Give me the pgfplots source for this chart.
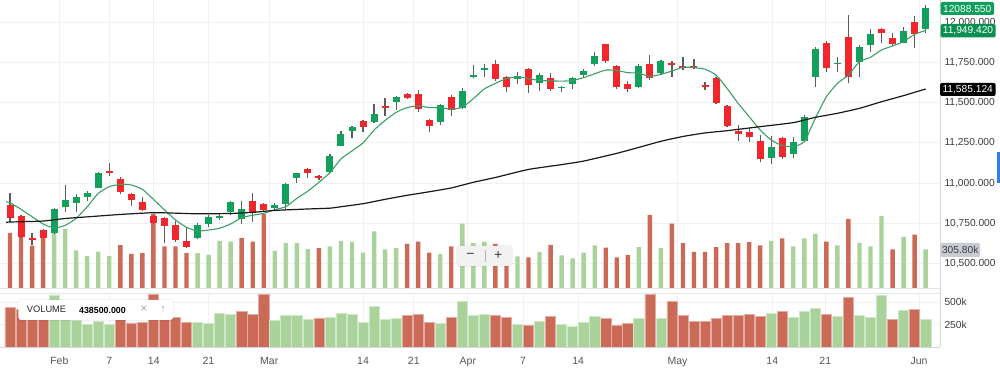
\documentclass[border=0pt]{standalone}
\usepackage{fontspec}
\setmainfont{Liberation Sans}
\usepackage{pgfplots}
\usepackage{pgfplotstable}
\pgfplotsset{compat=1.18}
\definecolor{cg}{HTML}{12A05D}
\definecolor{cr}{HTML}{F2262B}
\definecolor{wick}{HTML}{5C5C5C}
\definecolor{vr}{HTML}{CC6A58}
\definecolor{vg}{HTML}{A9D39A}
\definecolor{maf}{HTML}{3E9E68}
\definecolor{gridc}{HTML}{F1F1F1}
\definecolor{axisc}{HTML}{D3D6DC}
\definecolor{lab}{HTML}{3C3C3C}
\definecolor{lab2}{HTML}{555555}
\definecolor{tagg}{HTML}{0E9F5D}
\definecolor{tagg2}{HTML}{0B8F50}
\definecolor{tagv}{HTML}{C8CBD3}
\definecolor{blue1}{HTML}{2B7FF0}

\pgfplotstableread{
i O H L C V cu vu
0 10864 10937 10760 10781 438.5 0 0
1 10795 10800 10660 10667 420 0 0
2 10659 10692 10615 10646 336 0 0
3 10708 10715 10650 10657 430 0 0
4 10692 10845 10686 10837 577 1 1
5 10853 10988 10822 10895 468 1 1
6 10878 10932 10822 10915 299 1 1
7 10915 10953 10891 10937 254 1 1
8 10970 11071 10968 11065 288 1 1
9 11075 11123 11046 11061 252 0 1
10 11027 11036 10932 10945 341 0 0
11 10932 10937 10859 10895 270 0 0
12 10881 10912 10828 10833 276 0 0
13 10795 10800 10745 10750 588 0 0
14 10785 10790 10625 10734 331 0 0
15 10739 10766 10636 10645 330 0 0
16 10642 10719 10594 10604 276 0 0
17 10657 10750 10650 10739 277 1 1
18 10746 10802 10725 10791 262 1 1
19 10785 10808 10771 10795 375 1 1
20 10820 10889 10802 10882 368 1 1
21 10777 10889 10746 10839 397 1 0
22 10889 10941 10760 10812 368 0 0
23 10870 10876 10820 10832 588 0 0
24 10843 10875 10835 10864 295 1 1
25 10870 10999 10830 10994 357 1 1
26 11030 11065 11003 11061 357 1 1
27 11086 11092 11034 11061 309 0 1
28 11044 11050 11020 11030 317 0 0
29 11071 11180 11065 11170 331 1 1
30 11233 11324 11233 11305 375 1 1
31 11326 11355 11279 11351 368 1 1
32 11386 11392 11320 11351 280 0 1
33 11378 11490 11376 11430 449 1 1
34 11479 11531 11417 11465 306 0 1
35 11506 11544 11455 11537 317 1 1
36 11556 11562 11520 11527 350 0 0
37 11552 11579 11444 11461 368 0 0
38 11394 11398 11316 11357 280 0 0
39 11382 11492 11361 11486 269 1 1
40 11534 11548 11417 11455 331 0 0
41 11465 11590 11461 11573 511 1 1
42 11660 11737 11651 11675 357 1 1
43 11705 11743 11660 11716 368 1 1
44 11739 11765 11637 11647 350 0 0
45 11662 11665 11564 11600 331 0 0
46 11645 11689 11614 11668 251 1 1
47 11710 11714 11558 11610 244 0 0
48 11620 11683 11575 11672 287 1 1
49 11652 11683 11573 11585 342 0 0
50 11589 11606 11564 11600 258 1 1
51 11616 11662 11585 11652 236 1 1
52 11672 11710 11658 11697 280 1 1
53 11739 11817 11730 11793 339 1 1
54 11863 11865 11749 11759 320 0 0
55 11730 11732 11585 11596 244 0 0
56 11614 11635 11569 11583 262 0 0
57 11600 11739 11589 11728 324 1 1
58 11739 11797 11641 11652 581 0 0
59 11687 11766 11672 11761 317 1 1
60 11749 11759 11662 11737 511 0 0
61 11730 11786 11703 11716 357 0 0
62 11726 11772 11710 11714 287 0 0
63 11608 11631 11579 11595 287 0 0
64 11656 11658 11492 11496 324 0 0
65 11481 11483 11351 11357 357 0 0
66 11324 11361 11264 11303 357 0 0
67 11316 11345 11258 11284 364 0 0
68 11262 11299 11129 11150 339 0 0
69 11158 11293 11117 11226 375 1 1
70 11278 11289 11148 11164 394 0 0
71 11181 11285 11154 11258 331 1 1
72 11264 11423 11258 11413 394 1 1
73 11658 11849 11600 11832 430 1 1
74 11869 11886 11693 11714 368 0 0
75 11738 11782 11693 11747 339 1 1
76 11907 12045 11620 11662 548 0 0
77 11755 11859 11662 11844 357 1 1
78 11859 11958 11817 11925 331 1 1
79 11958 11962 11873 11931 570 0 1
80 11904 11935 11855 11865 306 0 0
81 11873 11969 11869 11944 405 1 1
82 12000 12041 11838 11927 423 0 0
83 11956 12106 11931 12088.55 305.8 1 1
}\data

\pgfplotstableread{
i m
-0.35 10884
0 10878
1 10837
2 10791
3 10746
4 10721
5 10737
6 10781
7 10853
8 10936
9 10978
10 10992
11 10988
12 10961
13 10899
14 10833
15 10771
16 10725
17 10702
18 10708
19 10719
20 10746
21 10785
22 10800
23 10812
24 10835
25 10853
26 10905
27 10950
28 11005
29 11065
30 11150
31 11200
32 11250
33 11330
34 11390
35 11440
36 11470
37 11480
38 11470
39 11468
40 11460
41 11472
42 11525
43 11586
44 11620
45 11650
46 11660
47 11650
48 11638
49 11636
50 11634
51 11638
52 11656
53 11680
54 11703
55 11700
56 11687
57 11683
58 11664
59 11676
60 11697
61 11720
62 11718
63 11708
64 11672
65 11589
66 11496
67 11413
68 11330
69 11268
70 11233
71 11227
72 11258
73 11403
74 11537
75 11620
76 11672
77 11755
78 11782
79 11828
80 11853
81 11880
82 11925
83 11949.42
}\mafast

\pgfplotstableread{
i m
-0.35 10756
0 10758
3 10764
5 10780
7 10790
10 10805
13 10816
15 10813
17 10809
20 10811
22 10818
24 10830
27 10839
29 10844
30 10853
32 10872
34 10899
36 10924
38 10946
40 10970
42 11005
44 11035
47 11085
50 11115
52 11137
55 11185
57 11222
59 11260
61 11290
63 11312
65 11326
68 11351
71 11376
73 11409
75 11434
77 11465
79 11506
81 11544
83 11585.124
}\maslow

\begin{document}
\begin{tikzpicture}
\useasboundingbox (0pt,0pt) rectangle (1000pt,385pt);
\pgfplotsset{
  chartx/.style={scale only axis, width=940pt, xmin=-0.907, xmax=84.3, anchor=south west},
  ticksx/.style={xtick={4.47,9.0,13.03,17.98,23.5,32.0,36.6,41.5,46.5,51.5,60.5,69.1,73.9,82.4}},
  nomark/.style={only marks, mark=*, mark size=0pt, mark options={draw=none, fill=none}},
}
% price grid and labels
\begin{axis}[chartx, ticksx, at={(0pt,97pt)}, height=288pt,
  ymin=10347.6, ymax=12138.7,
  axis line style={draw=none}, major tick length=0pt,
  xticklabels={},
  ytick={10500,10750,11000,11250,11500,11750,12000},
  yticklabels={{10,500.000},{10,750.000},{11,000.000},{11,250.000},{11,500.000},{11,750.000},{12,000.000}},
  yticklabel pos=right,
  yticklabel style={font=\fontsize{10.2}{12}\selectfont, text=lab, xshift=1pt},
  grid=major, major grid style={draw=gridc, line width=0.8pt}]
\end{axis}
% volume overlay in price panel
\begin{axis}[chartx, at={(0pt,97pt)}, height=288pt, ymin=0, ymax=2286, hide axis]
\addplot[ybar, bar width=4.4pt, bar shift=0pt, fill=vr, draw=none,
  restrict expr to domain={\thisrow{vu}}{-0.5:0.5}] table[x=i,y=V]{\data};
\addplot[ybar, bar width=4.4pt, bar shift=0pt, fill=vg, draw=none,
  restrict expr to domain={\thisrow{vu}}{0.5:1.5}] table[x=i,y=V]{\data};
\end{axis}
% candles and averages
\begin{axis}[chartx, at={(0pt,97pt)}, height=288pt, ymin=10347.6, ymax=12138.7, hide axis]
\addplot[nomark,
  error bars/.cd, y dir=plus, y explicit, error mark=none,
  error bar style={draw=wick, line width=1.2pt}]
  table[x=i, y=L, y error expr=\thisrow{H}-\thisrow{L}]{\data};
\addplot[nomark,
  restrict expr to domain={\thisrow{cu}}{0.5:1.5},
  error bars/.cd, y dir=plus, y explicit, error mark=none,
  error bar style={draw=cg, line width=7pt}]
  table[x=i, y=O, y error expr=\thisrow{C}-\thisrow{O}]{\data};
\addplot[nomark,
  restrict expr to domain={\thisrow{cu}}{-0.5:0.5},
  error bars/.cd, y dir=plus, y explicit, error mark=none,
  error bar style={draw=cr, line width=7pt}]
  table[x=i, y=C, y error expr=\thisrow{O}-\thisrow{C}]{\data};
\addplot[maf, line width=1.1pt, smooth, tension=0.35] table[x=i,y=m]{\mafast};
\addplot[black!90, line width=1.2pt, smooth, tension=0.3] table[x=i,y=m]{\maslow};
\end{axis}
% volume panel
\begin{axis}[chartx, ticksx, at={(0pt,37.5pt)}, height=54.5pt, ymin=0, ymax=599,
  axis line style={draw=none}, major tick length=0pt,
  xticklabels={Feb,7,14,21,Mar,14,21,Apr,7,14,May,14,21,Jun},
  xticklabel style={font=\fontsize{10.5}{12}\selectfont, text=lab2, yshift=-6pt},
  ytick={250,500}, yticklabels={250k,500k},
  yticklabel pos=right,
  yticklabel style={font=\fontsize{10.2}{12}\selectfont, text=lab, xshift=1pt},
  grid=major, major grid style={draw=gridc, line width=0.8pt}]
\addplot[ybar, bar width=10.2pt, bar shift=0pt, fill=vr, draw=vr!55!white, line width=0.5pt,
  restrict expr to domain={\thisrow{vu}}{-0.5:0.5}] table[x=i,y=V]{\data};
\addplot[ybar, bar width=10.2pt, bar shift=0pt, fill=vg, draw=vg!55!white, line width=0.5pt,
  restrict expr to domain={\thisrow{vu}}{0.5:1.5}] table[x=i,y=V]{\data};
\end{axis}
% frame lines
\draw[axisc, line width=0.8pt] (940pt,37.5pt) -- (940pt,385pt);
\draw[axisc, line width=0.8pt] (0pt,37.5pt) -- (940pt,37.5pt);
\draw[axisc!60, line width=0.8pt] (0pt,97pt) -- (940pt,97pt);
\draw[axisc!60, line width=0.8pt] (0pt,92pt) -- (940pt,92pt);
% price tags
\fill[tagg, rounded corners=1.5pt] (940.5pt,370pt) rectangle (994pt,383pt);
\node[text=white, font=\fontsize{10.2}{12}\selectfont, inner sep=0pt] at (967.2pt,376.5pt) {12088.550};
\fill[tagg2, rounded corners=1.5pt] (940.5pt,347.5pt) rectangle (995.5pt,361pt);
\node[text=white, font=\fontsize{10.2}{12}\selectfont, inner sep=0pt] at (968pt,354.2pt) {11,949.420};
\fill[black, rounded corners=1.5pt] (940pt,289pt) rectangle (995.5pt,302pt);
\node[text=white, font=\fontsize{10.2}{12}\selectfont, inner sep=0pt] at (967.7pt,295.5pt) {11,585.124};
\fill[tagv, rounded corners=1.5pt] (940.5pt,128pt) rectangle (980pt,142pt);
\node[text=lab, font=\fontsize{10.2}{12}\selectfont, inner sep=0pt] at (960.2pt,135pt) {305.80k};
\fill[blue1] (996.7pt,201.7pt) rectangle (1000pt,233.3pt);
% zoom buttons
\fill[black, opacity=0.05, rounded corners=4pt] (456pt,118pt) rectangle (513pt,140pt);
\fill[white!95!black, rounded corners=4pt] (457pt,119pt) rectangle (512pt,139pt);
\draw[gray!60, line width=0.6pt] (485pt,123pt) -- (485pt,135pt);
\node[text=lab, font=\fontsize{14}{14}\selectfont, inner sep=0pt] at (470.5pt,129.5pt) {−};
\node[text=lab, font=\fontsize{14}{14}\selectfont, inner sep=0pt] at (498.3pt,129.5pt) {+};
% volume legend box
\fill[black, opacity=0.06, rounded corners=3.5pt] (17.3pt,63.8pt) rectangle (174.3pt,85.8pt);
\fill[white, rounded corners=3pt] (18.3pt,65pt) rectangle (173.3pt,85pt);
\node[anchor=west, text=black!85, font=\fontsize{9.3}{11}\selectfont, inner sep=0pt] at (26.7pt,75.3pt) {VOLUME};
\node[anchor=west, text=black, font=\bfseries\fontsize{8.8}{11}\selectfont, inner sep=0pt] at (79pt,75pt) {438500.000};
\node[text=gray!70, font=\fontsize{12}{12}\selectfont, inner sep=0pt] at (144pt,75.5pt) {×};
\node[text=gray!70, font=\fontsize{11}{12}\selectfont, inner sep=0pt] at (163pt,75.5pt) {↑};
\end{tikzpicture}
\end{document}
